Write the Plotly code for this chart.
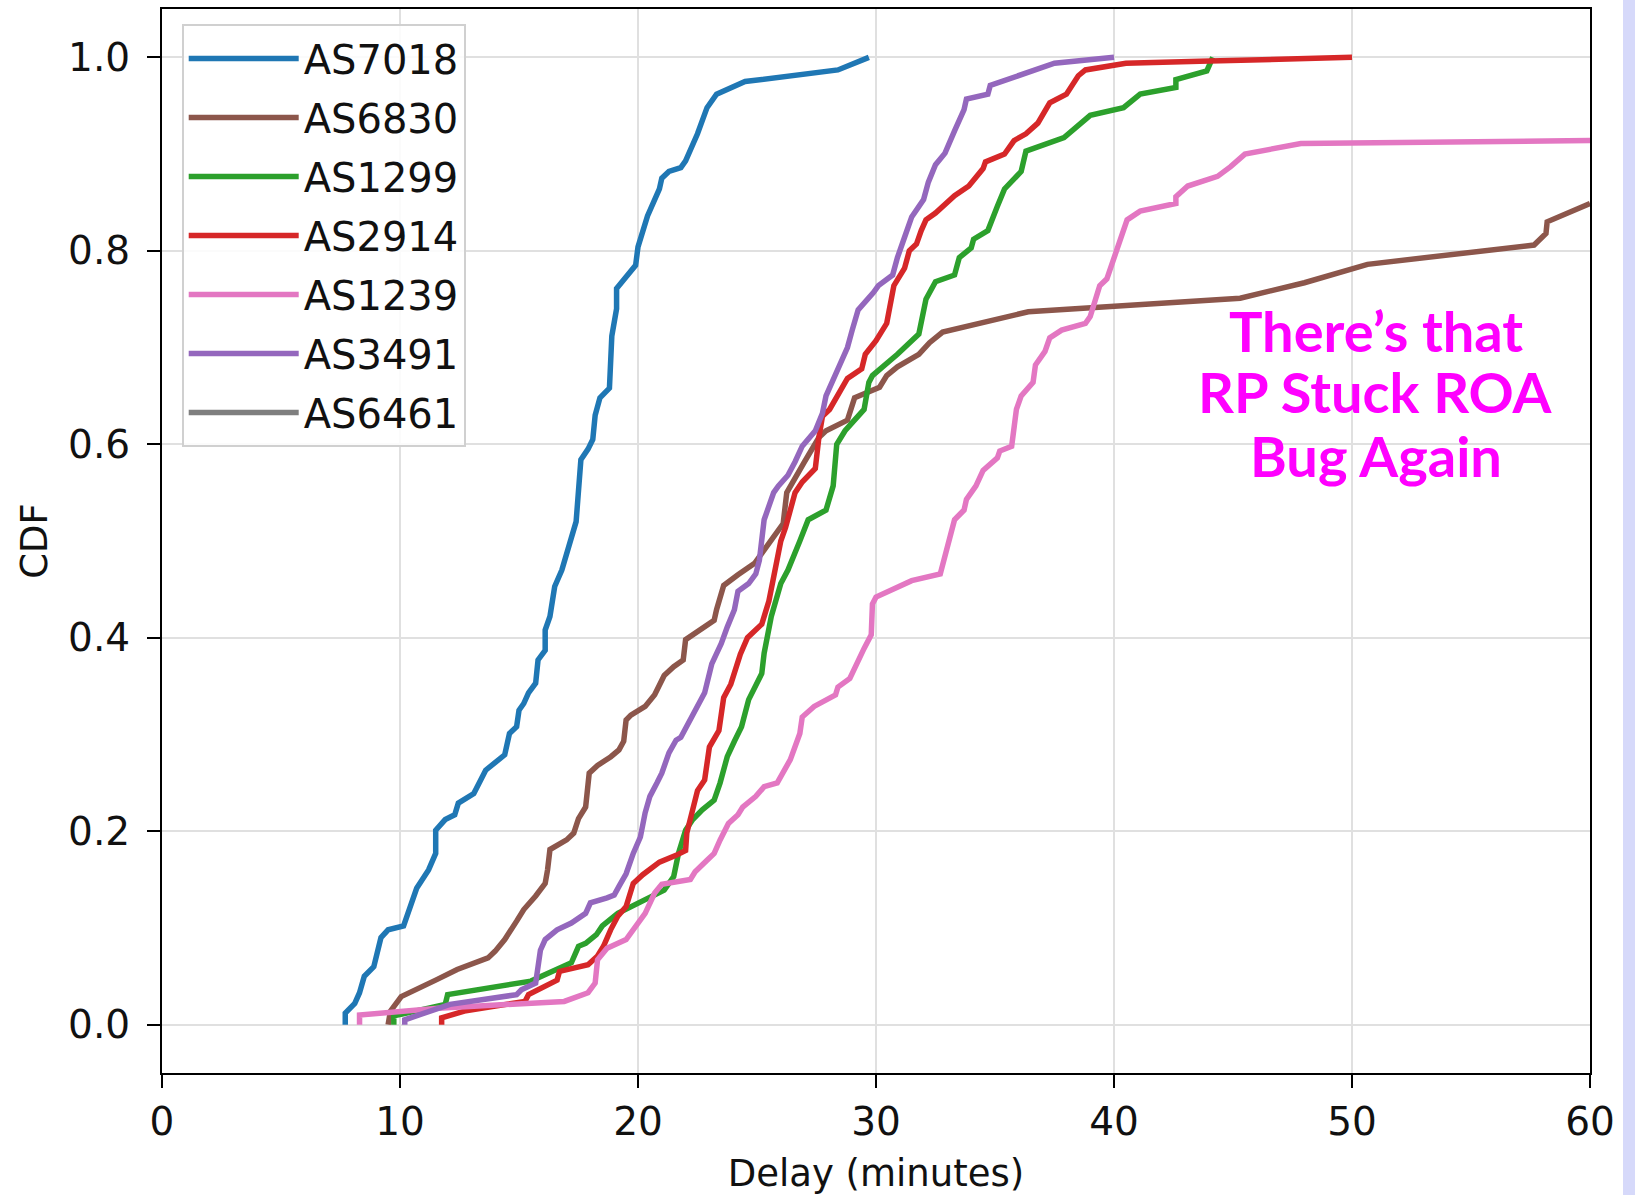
import plotly.graph_objects as go

# ---- data: (delay minutes, CDF) ----
AS7018 = [(7.7,0),(7.7,0.012),(8.1,0.022),(8.3,0.033),(8.5,0.05),(8.9,0.06),(9.2,0.09),(9.5,0.098),
          (10.15,0.102),(10.35,0.115),(10.7,0.141),(11.2,0.16),(11.5,0.177),(11.5,0.201),(11.9,0.212),
          (12.3,0.217),(12.45,0.229),(13.1,0.239),(13.6,0.263),(14.4,0.279),(14.6,0.301),(14.9,0.308),
          (15.0,0.325),(15.2,0.332),(15.4,0.343),(15.7,0.353),(15.8,0.377),(16.1,0.387),(16.1,0.408),
          (16.3,0.422),(16.5,0.453),(16.8,0.47),(17.1,0.493),(17.4,0.52),(17.6,0.584),(17.9,0.595),
          (18.1,0.605),(18.2,0.63),(18.4,0.648),(18.8,0.658),(18.9,0.712),(19.1,0.740),(19.1,0.761),
          (19.5,0.772),(19.9,0.785),(20.0,0.804),(20.4,0.836),(20.9,0.864),(21.0,0.875),(21.3,0.882),
          (21.8,0.886),(22.0,0.893),(22.5,0.921),(22.9,0.948),(23.3,0.962),(24.5,0.975),(28.4,0.987),
          (29.7,1.0)]

AS6830 = [(9.5,0),(9.6,0.014),(10.05,0.029),(10.6,0.036),(11.5,0.046),(12.4,0.057),(13.7,0.069),
          (14.0,0.076),(14.4,0.088),(14.9,0.107),(15.2,0.119),(15.7,0.133),(16.1,0.146),(16.2,0.16),
          (16.3,0.181),(17.0,0.191),(17.3,0.198),(17.5,0.213),(17.8,0.225),(17.95,0.26),(18.3,0.268),
          (18.86,0.277),(19.2,0.284),(19.4,0.293),(19.5,0.315),(19.7,0.32),(20.3,0.329),(20.7,0.341),
          (21.1,0.361),(21.5,0.37),(21.9,0.377),(22.0,0.398),(22.6,0.408),(23.2,0.418),(23.3,0.429),
          (23.6,0.454),(24.2,0.465),(24.9,0.477),(26.1,0.518),(26.25,0.55),(27.0,0.582),(27.6,0.607),
          (27.9,0.614),(28.8,0.625),(29.1,0.648),(30.15,0.659),(30.45,0.671),(30.9,0.68),(31.8,0.693),
          (32.25,0.705),(32.8,0.716),(36.4,0.737),(41.5,0.745),(45.3,0.751),(48.0,0.767),(50.65,0.786),
          (57.65,0.806),(58.15,0.818),(58.2,0.83),(60.0,0.849)]

AS1299 = [(9.74,0),(9.74,0.009),(11.9,0.021),(12.0,0.031),(15.5,0.045),(17.2,0.064),(17.5,0.081),
          (17.8,0.084),(18.25,0.093),(18.5,0.102),(19.15,0.115),(21.1,0.139),(21.5,0.153),(21.7,0.177),
          (22.0,0.201),(22.3,0.212),(22.7,0.222),(23.2,0.232),(23.45,0.25),(23.75,0.277),(24.05,0.293),
          (24.35,0.308),(24.65,0.336),(24.9,0.349),(25.2,0.363),(25.3,0.384),(25.6,0.422),(26.0,0.456),
          (26.3,0.47),(26.8,0.5),(27.15,0.522),(27.9,0.532),(28.2,0.557),(28.35,0.6),(28.7,0.614),
          (29.5,0.636),(29.7,0.664),(29.85,0.671),(30.6,0.686),(30.9,0.693),(31.8,0.714),(32.1,0.75),
          (32.5,0.768),(33.3,0.775),(33.5,0.793),(34.0,0.803),(34.1,0.812),(34.7,0.821),(35.1,0.846),
          (35.4,0.864),(36.1,0.882),(36.3,0.903),(37.9,0.917),(38.8,0.937),(39.0,0.94),(40.4,0.948),
          (41.1,0.962),(42.6,0.969),(42.6,0.977),(43.9,0.986),(44.0,0.993),(44.15,1.0)]

AS2914 = [(11.75,0),(11.75,0.007),(12.7,0.014),(15.25,0.024),(15.4,0.031),(16.0,0.038),(16.6,0.046),
          (16.7,0.055),(17.9,0.062),(18.3,0.071),(18.55,0.081),(18.85,0.098),(19.15,0.112),(19.5,0.122),
          (19.7,0.139),(19.8,0.146),(20.2,0.155),(20.9,0.168),(21.6,0.175),(22.0,0.18),(22.05,0.198),
          (22.3,0.225),(22.5,0.242),(22.8,0.253),(23.0,0.287),(23.4,0.304),(23.6,0.338),(23.9,0.352),
          (24.3,0.383),(24.6,0.4),(25.2,0.414),(25.5,0.438),(25.8,0.476),(26.0,0.5),(26.2,0.514),
          (26.6,0.55),(26.9,0.561),(27.45,0.575),(27.6,0.607),(27.75,0.629),(28.05,0.636),(28.8,0.668),
          (29.4,0.678),(29.55,0.693),(30.0,0.707),(30.45,0.725),(30.75,0.764),(31.2,0.782),(31.4,0.8),
          (31.7,0.807),(31.9,0.821),(32.1,0.832),(32.5,0.839),(33.3,0.857),(33.9,0.867),(34.5,0.885),
          (34.6,0.892),(35.4,0.9),(35.8,0.914),(36.3,0.921),(36.8,0.932),(37.3,0.953),(38.0,0.962),
          (38.5,0.981),(38.8,0.987),(40.5,0.994),(43.6,0.996),(50.0,1.0)]

AS1239 = [(8.3,0),(8.3,0.010),(11.6,0.017),(15.1,0.022),(16.9,0.024),(17.9,0.033),(18.2,0.043),
          (18.3,0.067),(18.7,0.079),(19.5,0.088),(19.9,0.102),(20.3,0.115),(20.7,0.136),(21.0,0.145),
          (22.2,0.15),(22.4,0.158),(22.9,0.17),(23.2,0.177),(23.45,0.191),(23.8,0.208),(24.2,0.217),
          (24.4,0.225),(24.95,0.236),(25.3,0.246),(25.85,0.25),(26.1,0.26),(26.4,0.274),(26.8,0.301),
          (26.9,0.318),(27.4,0.329),(28.3,0.341),(28.4,0.349),(28.9,0.358),(29.5,0.389),(29.8,0.403),
          (29.85,0.435),(30.0,0.442),(31.5,0.459),(32.7,0.466),(33.3,0.522),(33.7,0.532),(33.8,0.543),
          (34.2,0.557),(34.5,0.573),(35.1,0.586),(35.2,0.593),(35.7,0.598),(35.9,0.636),(36.1,0.65),
          (36.6,0.664),(36.7,0.682),(37.1,0.696),(37.3,0.71),(37.8,0.718),(38.8,0.725),(39.0,0.732),
          (39.4,0.764),(39.7,0.771),(39.9,0.785),(40.2,0.81),(40.55,0.832),(41.1,0.841),(42.6,0.849),
          (42.6,0.856),(43.1,0.867),(44.35,0.877),(44.9,0.887),(45.5,0.900),(47.85,0.911),(60.0,0.914)]

AS3491 = [(10.2,0),(10.2,0.005),(12.1,0.021),(13.4,0.026),(14.9,0.031),(15.1,0.036),(15.7,0.043),
          (15.9,0.077),(16.1,0.088),(16.6,0.098),(17.2,0.105),(17.8,0.115),(18.0,0.126),(18.7,0.131),
          (19.0,0.134),(19.2,0.143),(19.5,0.156),(19.8,0.177),(20.1,0.194),(20.3,0.219),(20.5,0.236),
          (20.8,0.25),(21.0,0.26),(21.3,0.281),(21.6,0.294),(21.8,0.297),(22.2,0.315),(22.45,0.327),
          (22.8,0.343),(23.1,0.373),(23.5,0.394),(23.75,0.411),(24.05,0.429),(24.2,0.448),(24.65,0.456),
          (24.95,0.466),(25.1,0.48),(25.3,0.522),(25.7,0.55),(25.9,0.557),(26.3,0.568),(26.6,0.582),
          (26.9,0.598),(27.45,0.614),(27.75,0.632),(27.9,0.65),(28.3,0.671),(28.65,0.689),(28.8,0.7),
          (29.0,0.718),(29.25,0.739),(29.9,0.757),(30.1,0.764),(30.7,0.775),(30.9,0.793),(31.2,0.814),
          (31.5,0.835),(32.0,0.853),(32.2,0.871),(32.5,0.889),(32.9,0.901),(33.3,0.924),(33.7,0.946),
          (33.8,0.957),(34.7,0.962),(34.8,0.971),(35.8,0.98),(37.5,0.994),(40.0,1.0)]

AS6461 = [(None, None)]  # appears only in the legend

series_names = ["AS7018", "AS6830", "AS1299", "AS2914", "AS1239", "AS3491", "AS6461"]
series_data = [AS7018, AS6830, AS1299, AS2914, AS1239, AS3491, AS6461]
series_colors = ["#1f77b4", "#8c564b", "#2ca02c", "#d62728", "#e377c2", "#9467bd", "#7f7f7f"]

x_ticks = [0, 10, 20, 30, 40, 50, 60]
y_ticks = [0.0, 0.2, 0.4, 0.6, 0.8, 1.0]
note_lines = ["There’s that", "RP Stuck ROA", "Bug Again"]
note_y = [0.718, 0.655, 0.588]

fig = go.Figure()
for name, pts, col in zip(series_names, series_data, series_colors):
    fig.add_trace(go.Scatter(
        x=[p[0] for p in pts], y=[p[1] for p in pts],
        mode="lines", name=name, legendgroup=name,
        line=dict(color=col, width=5.5),
    ))

font_main = "DejaVu Sans, Verdana, sans-serif"
axis_common = dict(
    showline=True, linecolor="black", linewidth=2.2, mirror=True,
    ticks="outside", ticklen=13, tickwidth=2, tickcolor="black",
    showgrid=True, gridcolor="#e0e0e0", gridwidth=2,
    zeroline=False, automargin=False,
    tickfont=dict(family=font_main, size=39, color="#111111"),
    title_font=dict(family=font_main, size=37, color="#111111"),
)

fig.update_layout(
    width=1635, height=1195,
    margin=dict(l=162, r=45, t=9, b=122),
    paper_bgcolor="white", plot_bgcolor="white",
    xaxis=dict(range=[0, 60], tickvals=x_ticks, ticktext=[str(v) for v in x_ticks],
               title=dict(text="Delay (minutes)", standoff=19), **axis_common),
    yaxis=dict(range=[-0.05, 1.05], tickvals=y_ticks, ticktext=[f"{v:.1f}" for v in y_ticks],
               ticklabelstandoff=9,
               title=dict(text="CDF", standoff=9), **axis_common),
    showlegend=True,
    legend=dict(
        x=0.0138, y=0.986, xanchor="left", yanchor="top",
        bgcolor="rgba(255,255,255,0.85)", bordercolor="#d0d0d0", borderwidth=2,
        font=dict(family=font_main, size=40, color="#111111"),
        tracegroupgap=4, itemwidth=110,
    ),
    annotations=[dict(
        x=51.0, y=yy, xref="x", yref="y",
        text=line, showarrow=False,
        font=dict(family="Comic Sans MS, Lato, sans-serif", size=56, color="#ff00ff", weight="bold"),
        align="center", xanchor="center", yanchor="middle",
    ) for line, yy in zip(note_lines, note_y)],
    shapes=[dict(type="rect", xref="paper", yref="paper",
                 x0=1.0231, x1=1.06, y0=-0.2, y1=1.1,
                 fillcolor="#d6d9fa", line=dict(width=0), layer="below")],
)

fig.write_html("out.html",
               config={"displayModeBar": False},
               post_script="document.body.style.margin='0';document.body.style.overflow='hidden';")
